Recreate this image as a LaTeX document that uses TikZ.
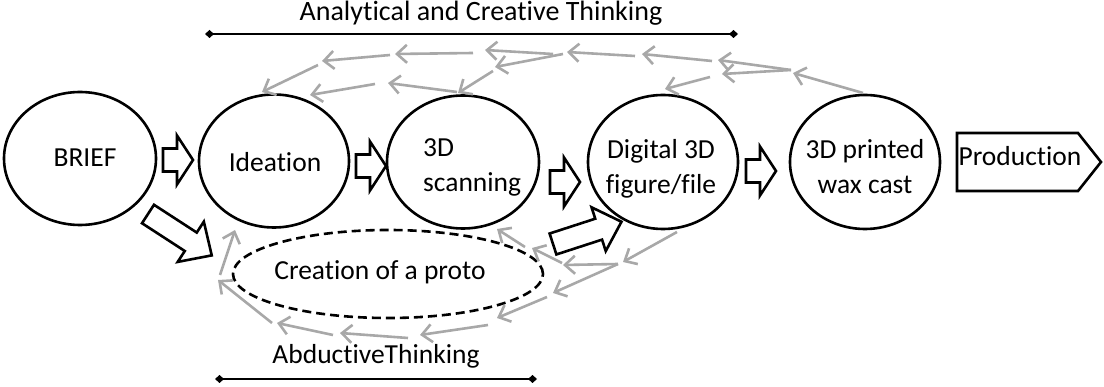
\documentclass[tikz,border=0pt]{standalone}
\usepackage{fontspec}
\setmainfont{Carlito}[Ligatures={NoCommon}]
\usetikzlibrary{shapes.geometric,arrows.meta}
\definecolor{arrgray}{RGB}{168,168,168}
\tikzset{
  stage/.style={draw, ellipse, line width=2.6pt, inner sep=0pt},
  lbl/.style={font=\fontsize{27.5}{35}\selectfont, inner sep=0pt, anchor=base},
  garr/.style={draw=arrgray, line width=2.6pt, -{Straight Barb[length=10pt,width=18pt,line width=2.6pt]}},
  blk/.style={draw, line width=2.6pt, line join=miter},
  bar/.style={line width=2.8pt, {Diamond[length=9pt,width=8pt]}-{Diamond[length=9pt,width=8pt]}},
}
% #1 origin, #2 angle, #3 length, #4 shaft half width, #5 head half width, #6 head length
\newcommand\blockarr[6]{%
  \draw[blk, shift={#1}, rotate=#2] (0,-#4) -- (#3-#6,-#4) -- (#3-#6,-#5) -- (#3,0)
    -- (#3-#6,#5) -- (#3-#6,#4) -- (0,#4) -- cycle;}
\begin{document}
\begin{tikzpicture}[x=1pt,y=-1pt]
\useasboundingbox (0,0) rectangle (1104,387);

% stages
\node[stage, minimum width=152pt, minimum height=133pt] (brief) at (80,158.5) {};
\node[stage, minimum width=150pt, minimum height=133pt] (idea) at (274,161) {};
\node[stage, minimum width=152pt, minimum height=133pt] (scan) at (463,162) {};
\node[stage, minimum width=150pt, minimum height=134pt] (digi) at (663,162) {};
\node[stage, minimum width=150pt, minimum height=134pt] (wax) at (865,162) {};
\node[stage, dashed, dash pattern=on 9pt off 5pt, minimum width=310pt, minimum height=88pt] (proto) at (388,274) {};

% production signal
\coordinate (p1) at (957,133);
\coordinate (p2) at (1078,133);
\coordinate (p3) at (1101,162);
\coordinate (p4) at (1078,191);
\coordinate (p5) at (957,191);
\draw[blk] (p1) -- (p2) -- (p3) -- (p4) -- (p5) -- cycle;

% labels
\node[lbl] (tbrief) at (85,167) {BRIEF};
\node[lbl] (tidea) at (275,172) {Ideation};
\node[lbl, anchor=base west, align=left] (tscan) at (423,192) {3D\\scanning};
\node[lbl, align=center] (tdigi) at (661,194) {Digital 3D\\figure/file};
\node[lbl, align=center] (twax) at (865,194) {3D printed\\wax cast};
\node[lbl] (tprod) at (1020,166) {Production};
\node[lbl] (tproto) at (380,280) {Creation of a proto};
\node[lbl, font=\fontsize{28}{34}\selectfont] (ttop) at (481,21) {Analytical and Creative Thinking};
\node[lbl] (tbot) at (376,364) {AbductiveThinking};

% bars
\coordinate (tb1) at (205,34);
\coordinate (tb2) at (738,34);
\draw[bar] (tb1) -- (tb2);
\coordinate (bb1) at (215,379);
\coordinate (bb2) at (537,379);
\draw[bar] (bb1) -- (bb2);

% block arrows
\blockarr{(163,160)}{0}{30}{11.5}{24.5}{16}
\blockarr{(356,166)}{0}{30}{11.5}{24.5}{16}
\blockarr{(550,182)}{0}{30}{11.5}{24.5}{16}
\blockarr{(746,171)}{0}{30}{11.5}{24.5}{16}
\blockarr{(148,214)}{-33}{76}{11}{24}{25}
\blockarr{(553,244)}{18}{72}{11}{23}{24}

% gray arrows, top
\coordinate (u0) at (863,93);  \coordinate (u1) at (793,73);
\coordinate (u2) at (791,70);  \coordinate (u3) at (718,60); \coordinate (u4) at (722,74);
\coordinate (u5) at (712,61);  \coordinate (u6) at (642,54);
\coordinate (u7) at (635,56);  \coordinate (u8) at (567,52);
\coordinate (u9) at (553,54);  \coordinate (u10) at (485,50);
\coordinate (u11) at (563,54); \coordinate (u12) at (495,67);
\coordinate (u13) at (473,53); \coordinate (u14) at (395,54);
\coordinate (u15) at (390,55); \coordinate (u16) at (322,61);
\coordinate (u17) at (318,65); \coordinate (u18) at (262,92);
\coordinate (u19) at (493,71); \coordinate (u20) at (458,93);
\coordinate (u21) at (457,92); \coordinate (u22) at (388,83);
\coordinate (u23) at (375,84); \coordinate (u24) at (310,95);
\coordinate (u25) at (710,77); \coordinate (u26) at (665,89);
\draw[garr] (u0) -- (u1);
\draw[garr] (u2) -- (u3);
\draw[garr] (u2) -- (u4);
\draw[garr] (u5) -- (u6);
\draw[garr] (u7) -- (u8);
\draw[garr] (u9) -- (u10);
\draw[garr] (u11) -- (u12);
\draw[garr] (u13) -- (u14);
\draw[garr] (u15) -- (u16);
\draw[garr] (u17) -- (u18);
\draw[garr] (u19) -- (u20);
\draw[garr] (u21) -- (u22);
\draw[garr] (u23) -- (u24);
\draw[garr] (u25) -- (u26);

% gray arrows, bottom
\coordinate (l0) at (677,232);  \coordinate (l1) at (623,262);
\coordinate (l2) at (618,264);  \coordinate (l3) at (563,265); \coordinate (l4) at (553,293);
\coordinate (l5) at (562,263);  \coordinate (l6) at (532,248);
\coordinate (l7) at (525,247);  \coordinate (l8) at (497,229);
\coordinate (l9) at (547,297);  \coordinate (l10) at (497,318);
\coordinate (l11) at (488,325); \coordinate (l12) at (420,335);
\coordinate (l13) at (408,338); \coordinate (l14) at (340,333);
\coordinate (l15) at (333,335); \coordinate (l16) at (277,323);
\coordinate (l17) at (272,323); \coordinate (l18) at (218,280);
\coordinate (l19) at (220,275); \coordinate (l20) at (235,230);
\draw[garr] (l0) -- (l1);
\draw[garr] (l2) -- (l3);
\draw[garr] (l2) -- (l4);
\draw[garr] (l5) -- (l6);
\draw[garr] (l7) -- (l8);
\draw[garr] (l9) -- (l10);
\draw[garr] (l11) -- (l12);
\draw[garr] (l13) -- (l14);
\draw[garr] (l15) -- (l16);
\draw[garr] (l17) -- (l18);
\draw[garr] (l19) -- (l20);
\end{tikzpicture}
\end{document}
